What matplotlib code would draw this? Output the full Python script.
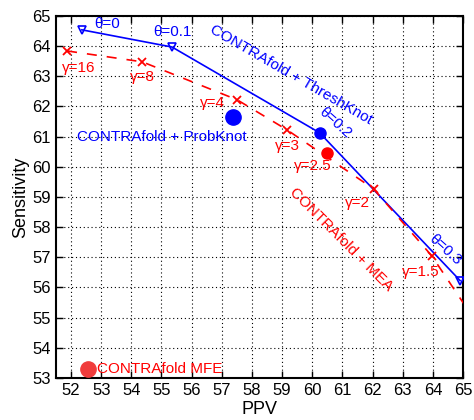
import matplotlib
matplotlib.use("Agg")
import matplotlib.pyplot as plt

plt.rcParams['font.family'] = ['Liberation Sans', 'DejaVu Sans']

# ThreshKnot curve (theta thresholds)
thresh_ppv = [52.36, 55.35, 60.24, 64.9]
thresh_sens = [64.54, 63.97, 61.13, 56.23]
thresh_labels = ["θ=0", "θ=0.1", "θ=0.2", "θ=0.3"]

# MEA curve (gamma values)
mea_ppv = [51.87, 54.36, 57.51, 59.17, 62.03, 63.96, 65.6]
mea_sens = [63.84, 63.48, 62.22, 61.22, 59.27, 57.05, 54.6]
mea_labels = ["γ=16", "γ=8", "γ=4", "γ=3", "γ=2", "γ=1.5", "γ=1"]

# single points
probknot = (57.38, 61.66)
mea_25 = (60.5, 60.46)
mfe = (52.56, 53.3)

blue = '#0000ff'
red = '#ff0000'

fig = plt.figure(figsize=(4.74, 4.2), dpi=100)
ax = fig.add_axes([0.118, 0.1, 0.859, 0.862])

ax.plot(thresh_ppv, thresh_sens, color=blue, lw=1.2, zorder=3)
ax.plot(thresh_ppv[:2] + thresh_ppv[3:], thresh_sens[:2] + thresh_sens[3:], ls='none',
        marker='v', ms=6, mfc='none', mec=blue, mew=1.2, zorder=4)
ax.plot(thresh_ppv[2], thresh_sens[2], 'o', color=blue, ms=8, zorder=4)

ax.plot(mea_ppv, mea_sens, color=red, lw=1.2, ls=(0, (6, 6)), marker='x', ms=6, mew=1.3, zorder=3)
ax.plot(*mea_25, 'o', color=red, ms=8, zorder=4)
ax.plot(*probknot, 'o', color=blue, ms=11, zorder=4)
ax.plot(*mfe, 'o', color='#f03c3c', ms=11, zorder=4, clip_on=False)

fs = 11
# theta labels
ax.text(53.2, 64.72, thresh_labels[0], color=blue, fontsize=fs, ha='center', va='center')
ax.text(55.35, 64.48, thresh_labels[1], color=blue, fontsize=fs, ha='center', va='center')
ax.text(60.75, 61.45, thresh_labels[2], color=blue, fontsize=fs, ha='center', va='center', rotation=-42)
ax.text(64.4, 57.25, thresh_labels[3], color=blue, fontsize=fs, ha='center', va='center', rotation=-42)

# gamma labels
ax.text(52.27, 63.28, mea_labels[0], color=red, fontsize=fs, ha='center', va='center')
ax.text(54.36, 62.98, mea_labels[1], color=red, fontsize=fs, ha='center', va='center')
ax.text(56.7, 62.1, mea_labels[2], color=red, fontsize=fs, ha='center', va='center')
ax.text(59.17, 60.7, mea_labels[3], color=red, fontsize=fs, ha='center', va='center')
ax.text(60.0, 60.03, "γ=2.5", color=red, fontsize=fs, ha='center', va='center')
ax.text(61.5, 58.8, mea_labels[4], color=red, fontsize=fs, ha='center', va='center')
ax.text(63.6, 56.5, mea_labels[5], color=red, fontsize=fs, ha='center', va='center')

# series labels
ax.text(59.3, 63.05, "CONTRAfold + ThreshKnot", color=blue, fontsize=fs,
        ha='center', va='center', rotation=-30)
ax.text(60.97, 57.6, "CONTRAfold + MEA", color=red, fontsize=fs,
        ha='center', va='center', rotation=-45)
ax.text(55.0, 61.0, "CONTRAfold + ProbKnot", color=blue, fontsize=fs, ha='center', va='center')
ax.text(52.85, 53.3, "CONTRAfold MFE", color=red, fontsize=fs, ha='left', va='center')

ax.set_xlim(51.5, 65)
ax.set_ylim(53, 65)
ax.set_xticks(range(52, 66))
ax.set_yticks(range(53, 66))
ax.tick_params(direction='in', top=True, right=True, labelsize=12, length=5, width=1)
ax.grid(True, color='black', ls=(0, (1, 2.5)), lw=0.8)
for s in ax.spines.values():
    s.set_linewidth(1.5)
ax.set_xlabel("PPV", fontsize=13, labelpad=2)
ax.set_ylabel("Sensitivity", fontsize=13, labelpad=2)

fig.savefig("out.png", dpi=100)
